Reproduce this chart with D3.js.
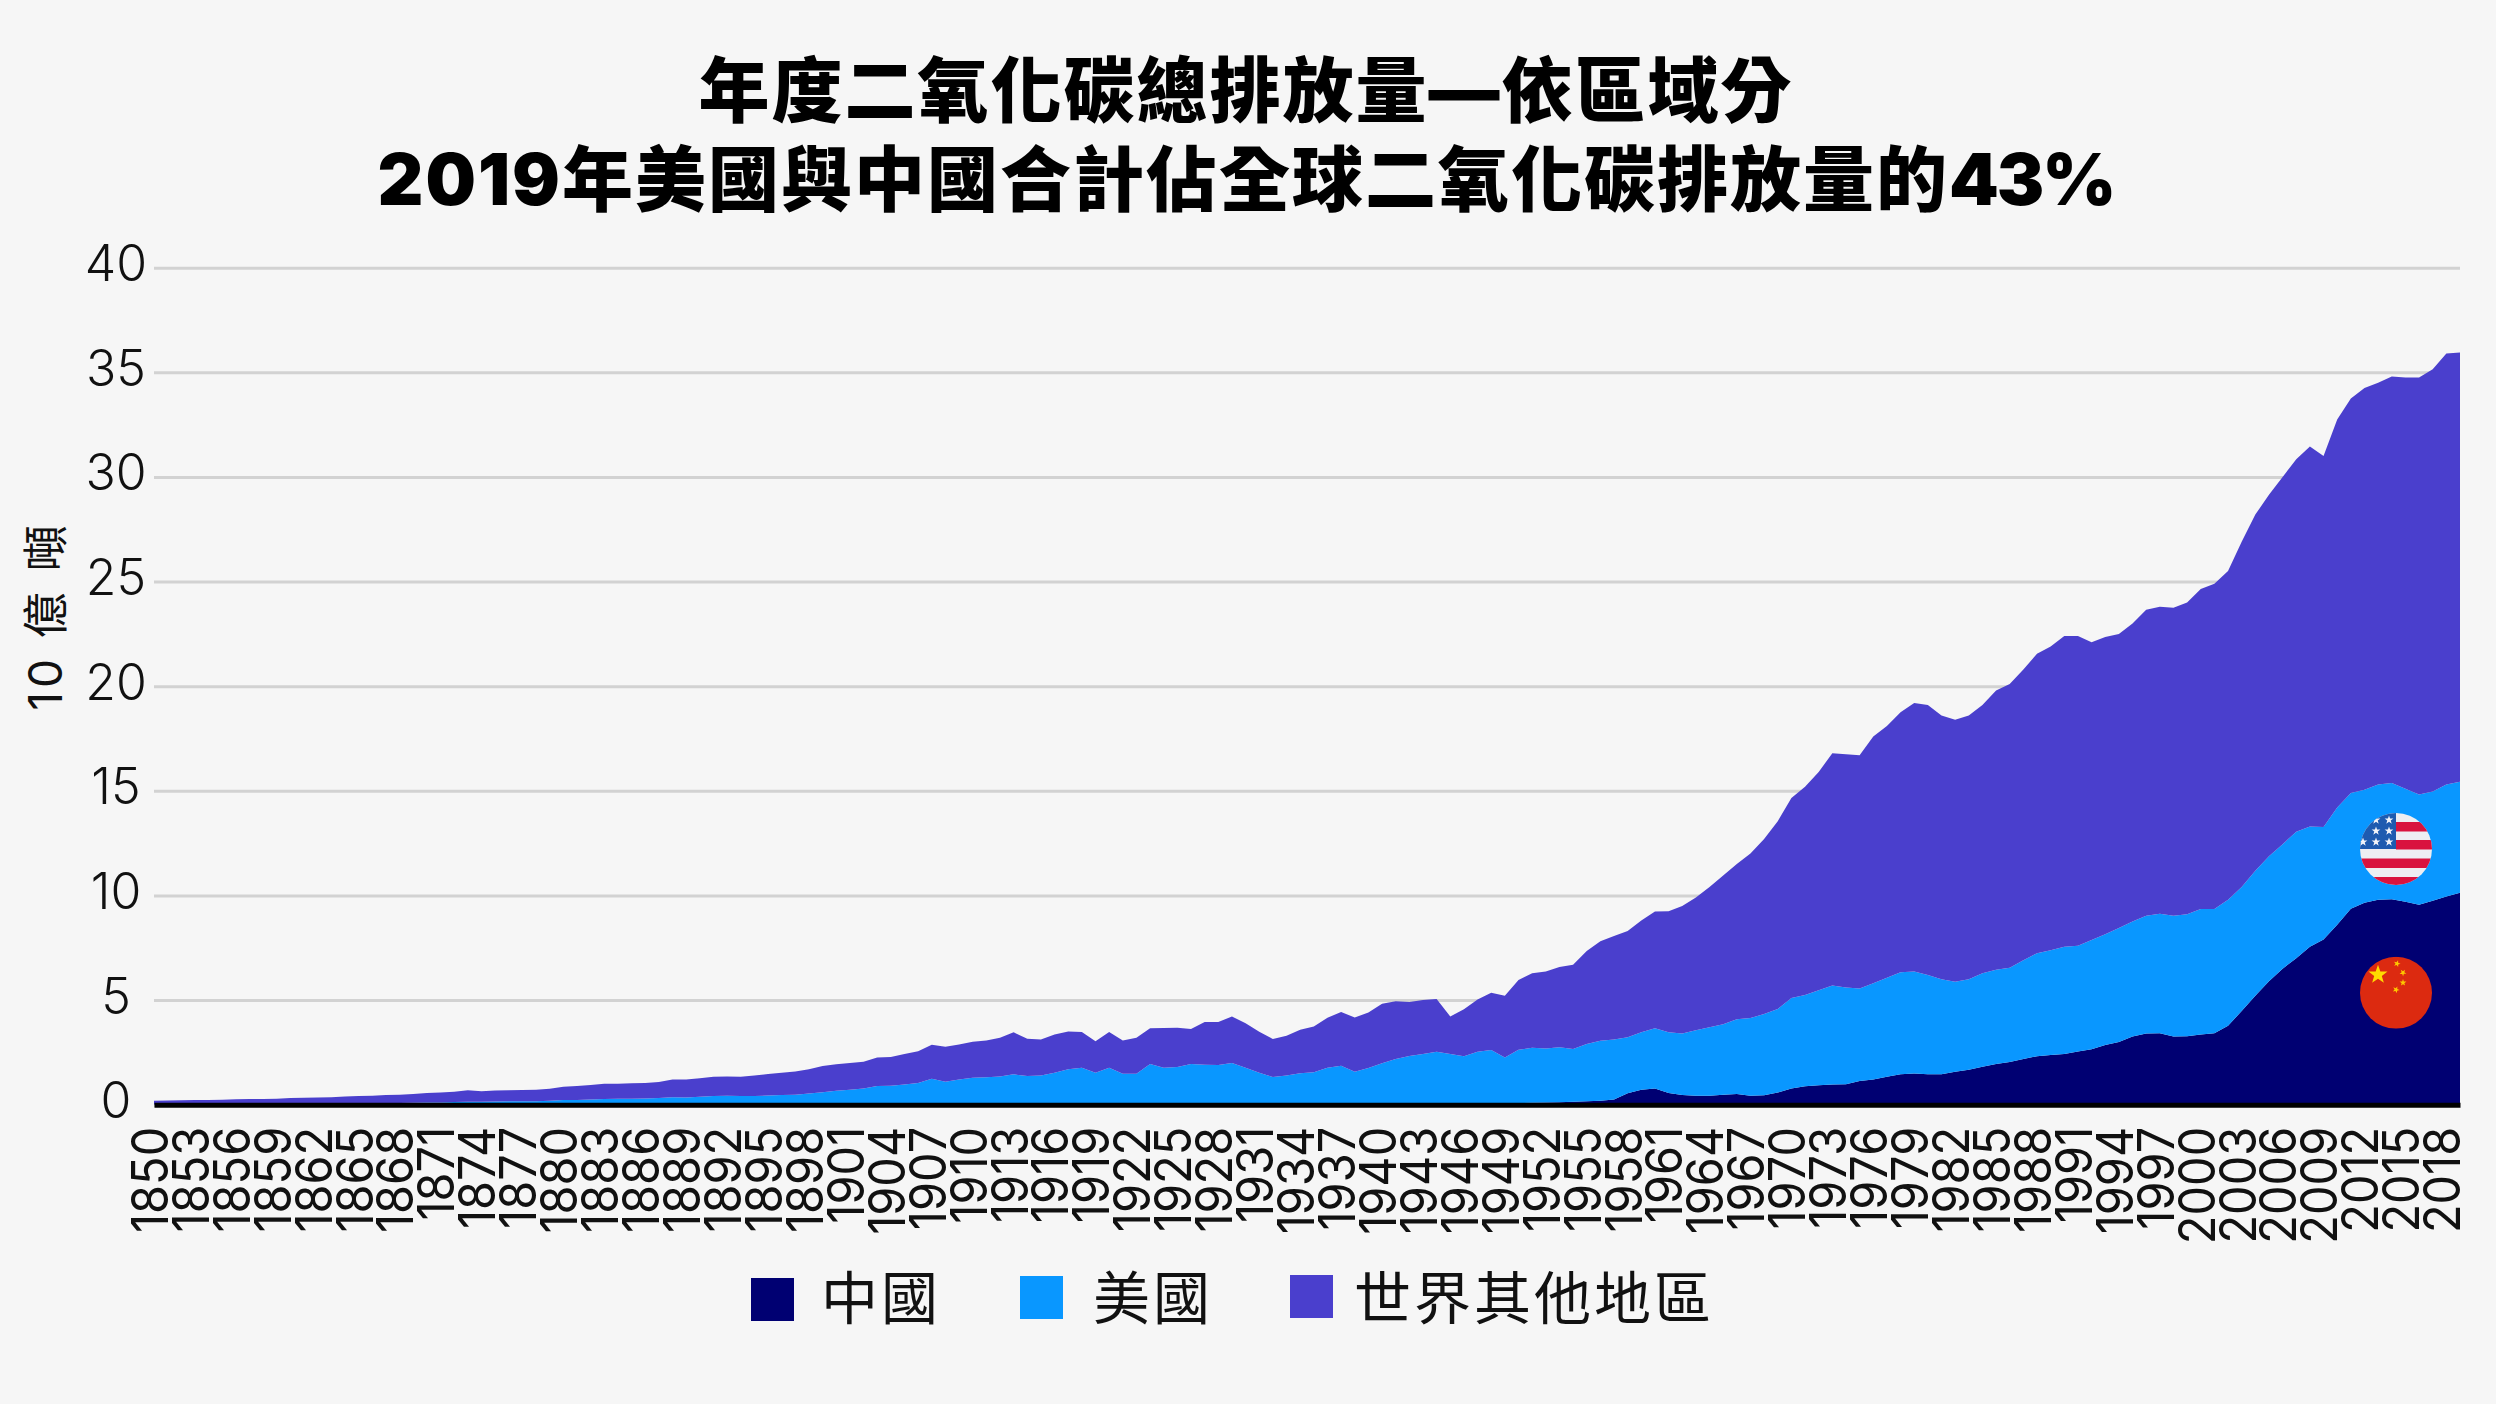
<!DOCTYPE html>
<html><head><meta charset="utf-8">
<script src="https://cdn.jsdelivr.net/npm/d3@7/dist/d3.min.js"></script>
<style>html,body{margin:0;padding:0;background:#f6f6f6}svg{display:block}</style>
</head><body><svg id="c" width="2496" height="1404"></svg>
<script>
const titleLine1 = "年度二氧化碳總排放量—依區域分";
const titleLine2 = "2019年美國與中國合計佔全球二氧化碳排放量的";
const titleLine2End = "43%";
const yAxisTitle = "10 億 噸";
const firstYear = 1850, lastYear = 2019;
const years = d3.range(firstYear, lastYear + 1);
const yearTicks = d3.range(1850, 2019, 3);
const valueTicks = [0, 5, 10, 15, 20, 25, 30, 35, 40];
const seriesNames = ["中國", "美國", "世界其他地區"];
const seriesColors = ["#000072", "#0997ff", "#4a3fcd"];

// 中國 (billion tonnes)
const china = [
 0,0,0,0,0,0,0,0,0,0, 0,0,0,0,0,0,0,0,0,0, 0,0,0,0,0,0,0,0,0,0,
 0,0,0,0,0,0,0,0,0,0, 0,0,0,0,0,0,0,0,0,0,
 .01,.01,.01,.01,.01,.01,.01,.01,.01,.01, .02,.02,.02,.02,.02,.02,.02,.02,.02,.02,
 .02,.02,.02,.02,.02,.02,.02,.02,.02,.02, .02,.02,.02,.02,.02,.02,.02,.02,.02,.02,
 .03,.03,.03,.03,.03,.02,.02,.03,.03,.05,
 .08,.09,.1,.12,.14,.17,.19,.25,.55,.72,
 .78,.56,.46,.43,.43,.48,.51,.43,.45,.58,
 .77,.88,.93,.96,.98,1.13,1.2,1.33,1.46,1.49,
 1.46,1.45,1.58,1.67,1.81,1.94,2.04,2.18,2.32,2.37,
 2.42,2.54,2.65,2.85,3.0,3.26,3.4,3.42,3.26,3.27,
 3.35,3.42,3.77,4.48,5.21,5.9,6.5,7.0,7.55,7.9,
 8.6,9.36,9.65,9.8,9.82,9.7,9.55,9.75,9.95,10.13
];
// 中國 + 美國 stack line
const chinaAndUS = [
 .01,.01,.01,.01,.02,.02,.02,.03,.03,.03, .04,.04,.05,.05,.06,.06,.07,.07,.08,.09,
 .1,.11,.13,.14,.14,.15,.16,.16,.17,.19, .22,.23,.25,.27,.28,.29,.3,.32,.36,.35,
 .38,.41,.43,.42,.41,.44,.46,.48,.53,.6,
 .67,.72,.78,.89,.91,.97,1.04,1.24,1.1,1.2,
 1.29,1.31,1.35,1.45,1.37,1.39,1.53,1.7,1.77,1.53,
 1.77,1.48,1.48,1.94,1.77,1.8,1.94,1.91,1.9,1.99,
 1.77,1.53,1.32,1.4,1.5,1.55,1.77,1.86,1.58,1.75,
 1.98,2.18,2.33,2.42,2.53,2.42,2.31,2.53,2.61,2.25,
 2.63,2.72,2.69,2.74,2.66,2.9,3.06,3.11,3.22,3.46,
 3.65,3.46,3.4,3.56,3.7,3.85,4.08,4.14,4.34,4.57,
 5.1,5.24,5.47,5.7,5.6,5.55,5.8,6.07,6.33,6.36,
 6.2,6.0,5.88,6.0,6.28,6.45,6.55,6.9,7.24,7.38,
 7.55,7.6,7.87,8.15,8.45,8.75,9.03,9.12,9.03,9.1,
 9.35,9.35,9.8,10.4,11.18,11.87,12.45,13.05,13.3,13.27,
 14.2,14.9,15.05,15.3,15.37,15.1,14.83,14.97,15.3,15.43
];
// 全球 total
const worldTotal = [
 .19,.2,.21,.22,.23,.24,.26,.27,.27,.29, .32,.33,.35,.36,.39,.41,.43,.46,.48,.51,
 .56,.58,.62,.69,.64,.68,.69,.7,.72,.76, .86,.89,.94,1.0,1.0,1.02,1.04,1.08,1.2,1.2,
 1.27,1.34,1.35,1.34,1.39,1.47,1.53,1.59,1.69,1.85,
 1.93,1.99,2.05,2.25,2.28,2.42,2.55,2.87,2.77,2.88,
 3.01,3.07,3.2,3.46,3.15,3.11,3.36,3.5,3.47,3.03,
 3.47,3.07,3.2,3.65,3.66,3.68,3.62,3.95,3.95,4.22,
 3.89,3.49,3.14,3.3,3.58,3.74,4.16,4.43,4.17,4.41,
 4.83,4.94,4.91,5.0,5.05,4.22,4.56,5.03,5.35,5.21,
 5.96,6.28,6.37,6.58,6.69,7.35,7.81,8.06,8.3,8.8,
 9.23,9.24,9.5,9.9,10.4,10.95,11.5,12.0,12.7,13.55,
 14.66,15.2,15.9,16.8,16.75,16.7,17.6,18.1,18.75,19.2,
 19.1,18.6,18.4,18.6,19.1,19.8,20.1,20.8,21.55,21.9,
 22.4,22.4,22.1,22.35,22.5,23.0,23.65,23.8,23.75,24.0,
 24.65,24.9,25.5,26.9,28.2,29.15,30.0,30.85,31.45,31.0,
 32.75,33.75,34.25,34.5,34.8,34.75,34.75,35.15,35.9,35.95
];

const font = 'Inter, "Noto Sans CJK TC", sans-serif';
const cjk = '"Noto Sans CJK TC", sans-serif';
const svg = d3.select("#c");
svg.append("rect").attr("width", 2496).attr("height", 1404).attr("fill", "#f6f6f6");

const x = d3.scaleLinear().domain([firstYear, lastYear]).range([154, 2460]);
const y = d3.scaleLinear().domain([0, 40]).range([1104.7, 267.7]);

// gridlines + y labels
const yAxis = svg.append("g").attr("transform", "translate(154,0)")
  .call(d3.axisLeft(y).tickValues(valueTicks).tickSize(-2306).tickPadding(0));
yAxis.select(".domain").remove();
yAxis.selectAll(".tick line").attr("stroke", "#d2d2d2").attr("stroke-width", 3);
yAxis.selectAll(".tick text").attr("x", -38).attr("y", -5).attr("dy", "0.36em")
  .attr("text-anchor", "middle").attr("fill", "#111").style("font", "300 50px " + font);

// layers
const layers = [
  {low: () => 0, high: i => china[i], color: seriesColors[0]},
  {low: i => china[i], high: i => chinaAndUS[i], color: seriesColors[1]},
  {low: i => chinaAndUS[i], high: i => worldTotal[i], color: seriesColors[2]}
];
layers.forEach(l => {
  const area = d3.area().x((d) => x(d))
    .y0((d, i) => y(l.low(i))).y1((d, i) => y(l.high(i)));
  svg.append("path").datum(years).attr("d", area).attr("fill", l.color);
});

// x axis
const xAxis = svg.append("g").attr("transform", "translate(0," + y(0) + ")")
  .call(d3.axisBottom(x).tickValues(yearTicks).tickFormat(d3.format("d")).tickSize(0).tickSizeOuter(0));
xAxis.select(".domain").attr("stroke", "#000").attr("stroke-width", 5);
xAxis.selectAll(".tick text").attr("transform", "rotate(-90) scale(.92,1)")
  .attr("x", -24).attr("y", -5).attr("dy", "0.36em").attr("text-anchor", "end")
  .attr("fill", "#111").style("font", "400 51px " + font);

// titles
const titleStyle = t => t.attr("x", 1246).attr("text-anchor", "middle").attr("fill", "#000")
  .style("font", "900 71px " + font).style("letter-spacing", "2px");
svg.append("text").attr("y", 116).call(titleStyle).text(titleLine1);
const t2 = svg.append("text").attr("y", 205).call(titleStyle);
t2.append("tspan").text(titleLine2);
t2.append("tspan").style("letter-spacing", "-2px").text(titleLine2End);

// y title
svg.append("text").attr("transform", "translate(62,616) rotate(-90)")
  .attr("text-anchor", "middle").attr("fill", "#111")
  .style("font", "400 46px " + font).style("letter-spacing", "4px").text(yAxisTitle);

// legend
const legendSwatchX = [751, 1020, 1290], legendSwatchY = [1278, 1276, 1275], legendTextX = [821, 1093, 1354];
seriesNames.forEach((n, i) => {
  svg.append("rect").attr("x", legendSwatchX[i]).attr("y", legendSwatchY[i]).attr("width", 43).attr("height", 43).attr("fill", seriesColors[i]);
  svg.append("text").attr("x", legendTextX[i]).attr("y", 1319).attr("fill", "#111")
    .style("font", "400 57px " + cjk).style("letter-spacing", "3px").text(n);
});

// flags
const defs = svg.append("defs");
function starPts(cx, cy, r, rot) {
  return d3.range(10).map(k => {
    const a = -Math.PI / 2 + rot + k * Math.PI / 5, rr = k % 2 ? r * 0.4 : r;
    return [cx + rr * Math.cos(a), cy + rr * Math.sin(a)].join(",");
  }).join(" ");
}
const fx = 2396, usy = 849, cny = 992.7, fr = 36;
defs.append("clipPath").attr("id", "us").append("circle").attr("cx", fx).attr("cy", usy).attr("r", fr);
const us = svg.append("g").attr("clip-path", "url(#us)");
us.append("rect").attr("x", fx - fr).attr("y", usy - fr).attr("width", 2 * fr).attr("height", 2 * fr).attr("fill", "#eeeef2");
const stripeTops = [-27, -9, 9.5, 28];
stripeTops.forEach(t => {
  const left = t < 0 ? fx : fx - fr;
  us.append("rect").attr("x", left).attr("y", usy + t).attr("width", t < 0 ? fr : 2 * fr).attr("height", 9.5).attr("fill", "#d9133e");
});
us.append("rect").attr("x", fx - fr).attr("y", usy - fr).attr("width", fr).attr("height", 36).attr("fill", "#1e5bb0");
[[-7, -29], [-20, -29], [-7, -18], [-20, -18], [-7, -7], [-20, -7], [-33, -7]].forEach(p => {
  us.append("polygon").attr("points", starPts(fx + p[0], usy + p[1], 4.6, 0)).attr("fill", "#f2f4fa");
});
defs.append("clipPath").attr("id", "cn").append("circle").attr("cx", fx).attr("cy", cny).attr("r", fr);
const cn = svg.append("g").attr("clip-path", "url(#cn)");
cn.append("rect").attr("x", fx - fr).attr("y", cny - fr).attr("width", 2 * fr).attr("height", 2 * fr).attr("fill", "#dc2a10");
cn.append("polygon").attr("points", starPts(fx - 18, cny - 18, 10, 0)).attr("fill", "#ffdb00");
[[1, -29, .3], [7, -20, .6], [7, -10, 0], [0, -3, .4]].forEach(p => {
  cn.append("polygon").attr("points", starPts(fx + p[0], cny + p[1], 3.6, p[2])).attr("fill", "#fdc800");
});
</script></body></html>
